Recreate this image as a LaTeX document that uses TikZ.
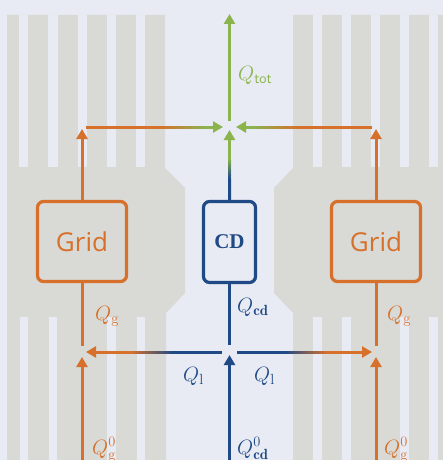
\documentclass[tikz,border=0pt]{standalone}
\usepackage{fontspec}
\newfontfamily\gridfont{Open Sans}
\newfontfamily\cdfont{Liberation Serif}
\usetikzlibrary{arrows.meta,calc}
\definecolor{cO}{HTML}{D7702A}
\definecolor{cG}{HTML}{8BB34E}
\definecolor{cB}{HTML}{1F4A85}
\definecolor{cBg}{HTML}{E8EBF4}
\definecolor{cGr}{HTML}{D9D9D5}
% #1 start, #2 end, #3 colour at start, #4 colour at end, #5/#6 fractions of the transition
\newcommand\gradseg[6]{%
  \foreach \i in {0,...,23}{%
    \pgfmathsetmacro\ta{#5+(#6-#5)*\i/24}%
    \pgfmathsetmacro\tb{#5+(#6-#5)*(\i+1.4)/24}%
    \pgfmathsetmacro\pp{100*(\i+0.5)/24}%
    \draw[ln, color=#4!\pp!#3] ($(#1)!\ta!(#2)$) -- ($(#1)!\tb!(#2)$);
  }}
\begin{document}
\begin{tikzpicture}[x=1pt,y=-1pt,
  ln/.style={line width=3pt},
  tip/.style={-{Triangle[length=10pt,width=11pt]}},
  box/.style={draw, line width=3.2pt, rounded corners=6pt, inner sep=0pt},
  lbl/.style={font=\fontsize{21}{24}\selectfont, inner sep=0pt, anchor=north west},
]
\useasboundingbox[fill=cBg] (0,0) rectangle (443,460);
% background electrodes
\fill[cGr] (7,15) -- (165,15) -- (165,168) -- (185,188) -- (185,293) -- (166,313) -- (166,460) -- (7,460) -- cycle;
\fill[cGr] (443,15) -- (293,15) -- (293,168) -- (274,188) -- (274,293) -- (293,313) -- (293,460) -- (443,460) -- cycle;
\foreach \a/\b in {19/28,48/58,78/87,107/116,136/145,313/322,342/351,371/380,400/409,429/438}
  \fill[cBg] (\a,15) rectangle (\b,167);
\foreach \a/\b in {20/28,49/57,107/116,137/145,313/322,342/351,400/409,429/438}
  \fill[cBg] (\a,317) rectangle (\b,460);

% boxes
\node[box, cO, minimum width=89pt, minimum height=80pt, font=\gridfont\fontsize{26}{30}\selectfont] (gl) at (82,241.5) {Grid};
\node[box, cO, minimum width=89pt, minimum height=80pt, font=\gridfont\fontsize{26}{30}\selectfont] (gr) at (376,241.5) {Grid};
\node[box, cB, minimum width=52pt, minimum height=81pt, font=\cdfont\bfseries\fontsize{21}{24}\selectfont] (cd) at (229.5,242) {CD};

% coordinates
\coordinate (top) at (229.5,14);
\coordinate (jtU) at (229.5,121);
\coordinate (jtB) at (229.5,130);
\coordinate (jtL) at (223,127);
\coordinate (jtR) at (236,127);
\coordinate (tlA) at (82,129);
\coordinate (tlH) at (86,127);
\coordinate (trA) at (376,129);
\coordinate (trH) at (372,127);
\coordinate (blE) at (82,346);
\coordinate (cdE) at (229.5,345);
\coordinate (brE) at (376,346);
\coordinate (jbL) at (222,352);
\coordinate (jbR) at (237,352);
\coordinate (blT) at (86,352);
\coordinate (brT) at (372,352);
\coordinate (blU) at (82,357);
\coordinate (bcU) at (229.5,355);
\coordinate (brU) at (376,357);
\coordinate (blB) at (82,470);
\coordinate (bcB) at (229.5,470);
\coordinate (brB) at (376,470);

% top part
\draw[ln,cG,tip] (jtU) -- (top);
\draw[ln,cO,tip] (gl.north) -- (tlA);
\draw[ln,cO,tip] (gr.north) -- (trA);
\draw[ln,cO] (tlH) -- ($(tlH)!0.54!(jtL)$);
\gradseg{tlH}{jtL}{cO}{cG}{0.54}{0.87}
\draw[ln,cG,tip] ($(tlH)!0.86!(jtL)$) -- (jtL);
\draw[ln,cO] (trH) -- ($(trH)!0.54!(jtR)$);
\gradseg{trH}{jtR}{cO}{cG}{0.54}{0.87}
\draw[ln,cG,tip] ($(trH)!0.86!(jtR)$) -- (jtR);
\draw[ln,cB] (cd.north) -- ($(cd.north)!0.3!(jtB)$);
\gradseg{cd.north}{jtB}{cB}{cG}{0.3}{0.58}
\draw[ln,cG,tip] ($(cd.north)!0.57!(jtB)$) -- (jtB);

% bottom part
\draw[ln,cO] (gl.south) -- (blE);
\draw[ln,cO] (gr.south) -- (brE);
\draw[ln,cB] (cd.south) -- (cdE);
\draw[ln,cB] (jbL) -- ($(jbL)!0.36!(blT)$);
\gradseg{jbL}{blT}{cB}{cO}{0.36}{0.67}
\draw[ln,cO,tip] ($(jbL)!0.66!(blT)$) -- (blT);
\draw[ln,cB] (jbR) -- ($(jbR)!0.36!(brT)$);
\gradseg{jbR}{brT}{cB}{cO}{0.36}{0.67}
\draw[ln,cO,tip] ($(jbR)!0.66!(brT)$) -- (brT);
\draw[ln,cO,tip] (blB) -- (blU);
\draw[ln,cB,tip] (bcB) -- (bcU);
\draw[ln,cO,tip] (brB) -- (brU);

% labels
\node[lbl,cG] (ltot) at (238,66) {$Q_{\mathsf{tot}}$};
\node[lbl,cO] (lgl) at (95,306) {$Q_{\mathrm{g}}$};
\node[lbl,cO] (lgr) at (387,306) {$Q_{\mathrm{g}}$};
\node[lbl,cB] (lcd) at (237,298) {$Q_{\mathbf{cd}}$};
\node[lbl,cB] (lll) at (183,367) {$Q_{\mathrm{l}}$};
\node[lbl,cB] (llr) at (254,367) {$Q_{\mathrm{l}}$};
\node[lbl,cO] (lg0l) at (92,437) {$Q^{0}_{\mathrm{g}}$};
\node[lbl,cB] (lcd0) at (237,437) {$Q^{0}_{\mathbf{cd}}$};
\node[lbl,cO] (lg0r) at (384,437) {$Q^{0}_{\mathrm{g}}$};
\end{tikzpicture}
\end{document}
